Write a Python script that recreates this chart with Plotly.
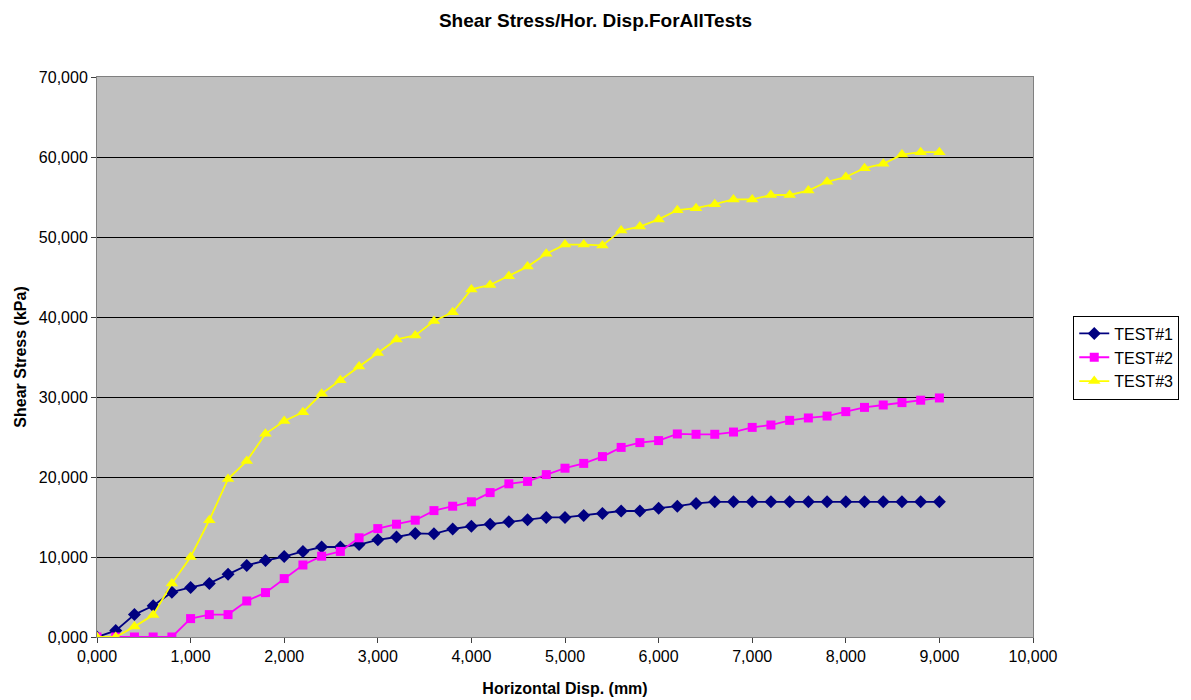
import plotly.graph_objects as go

disp = [0, 200, 400, 600, 800, 1000, 1200, 1400, 1600, 1800, 2000, 2200, 2400, 2600, 2800,
        3000, 3200, 3400, 3600, 3800, 4000, 4200, 4400, 4600, 4800, 5000, 5200, 5400, 5600,
        5800, 6000, 6200, 6400, 6600, 6800, 7000, 7200, 7400, 7600, 7800, 8000, 8200, 8400,
        8600, 8800, 9000]

test1 = [0, 800, 2800, 3900, 5600, 6200, 6700, 7850, 8950, 9550, 10050, 10700, 11250, 11250,
         11550, 12150, 12500, 12950, 12900, 13500, 13850, 14100, 14400, 14650, 14950, 14950,
         15200, 15450, 15750, 15750, 16100, 16350, 16700, 16900, 16900, 16900, 16900, 16900,
         16900, 16900, 16900, 16900, 16900, 16900, 16900, 16900]

test2 = [0, 0, 0, 0, 0, 2300, 2800, 2800, 4500, 5550, 7300, 9000, 10100, 10700, 12400,
         13550, 14100, 14600, 15800, 16350, 16900, 18050, 19150, 19450, 20300, 21100, 21700,
         22550, 23700, 24300, 24550, 25380, 25340, 25340, 25620, 26200, 26500, 27080, 27380,
         27620, 28170, 28700, 29000, 29300, 29600, 29880]

test3 = [0, 0, 1300, 2750, 6700, 10000, 14600, 19750, 22000, 25400, 27000, 28100, 30400,
         32100, 33800, 35500, 37200, 37700, 39500, 40600, 43450, 44000, 45100, 46300, 47900,
         49050, 49050, 48950, 50800, 51300, 52200, 53350, 53600, 54100, 54700, 54700, 55250,
         55250, 55800, 56900, 57500, 58600, 59150, 60300, 60600, 60600]

x_ticks = [0, 1000, 2000, 3000, 4000, 5000, 6000, 7000, 8000, 9000, 10000]
x_labels = ["0,000", "1,000", "2,000", "3,000", "4,000", "5,000", "6,000", "7,000",
            "8,000", "9,000", "10,000"]
y_ticks = [0, 10000, 20000, 30000, 40000, 50000, 60000, 70000]
y_labels = ["0,000", "10,000", "20,000", "30,000", "40,000", "50,000", "60,000", "70,000"]

FONT = "Liberation Sans, Arial"

fig = go.Figure()
fig.add_trace(go.Scatter(x=disp, y=test1, mode="lines+markers", name="TEST#1",
                         line=dict(color="#000080", width=1.8),
                         marker=dict(symbol="diamond", size=10, color="#000080")))
fig.add_trace(go.Scatter(x=disp, y=test2, mode="lines+markers", name="TEST#2",
                         line=dict(color="#FF00FF", width=1.8),
                         marker=dict(symbol="square", size=9, color="#FF00FF")))
fig.add_trace(go.Scatter(x=disp, y=test3, mode="lines+markers", name="TEST#3",
                         line=dict(color="#FFFF00", width=1.8),
                         marker=dict(symbol="triangle-up", size=11, color="#FFFF00")))

fig.update_layout(
    width=1191, height=700,
    margin=dict(l=97, r=158, t=77, b=63, autoexpand=False),
    paper_bgcolor="white",
    plot_bgcolor="#C0C0C0",
    font=dict(family=FONT, size=16, color="black"),
    title=dict(text="<b>Shear Stress/Hor. Disp.ForAllTests</b>", x=0.5, xref="container",
               xanchor="center", y=0.971, yref="container", yanchor="middle",
               font=dict(size=19, family=FONT, color="black")),
    xaxis=dict(range=[0, 10000], tickvals=x_ticks, ticktext=x_labels,
               showgrid=False, zeroline=False, showline=True, linecolor="#808080",
               linewidth=1, mirror=True, ticks="outside", ticklen=5, tickcolor="#404040",
               tickfont=dict(size=16), automargin=False,
               title=dict(text="<b>Horizontal Disp. (mm)</b>", standoff=18,
                          font=dict(size=16))),
    yaxis=dict(range=[0, 70000], tickvals=y_ticks, ticktext=y_labels,
               showgrid=True, gridcolor="black", gridwidth=1, zeroline=False,
               showline=True, linecolor="#808080", linewidth=1, mirror=True,
               ticks="outside", ticklen=5, tickcolor="#404040",
               tickfont=dict(size=16), automargin=False,
               title=dict(text="<b>Shear Stress (kPa)</b>", standoff=8,
                          font=dict(size=16))),
    legend=dict(x=1.043, y=0.574, xanchor="left", yanchor="top",
                bgcolor="white", bordercolor="black", borderwidth=1,
                font=dict(size=16), tracegroupgap=0, itemwidth=30),
    showlegend=True,
)

fig.write_html("out.html")
